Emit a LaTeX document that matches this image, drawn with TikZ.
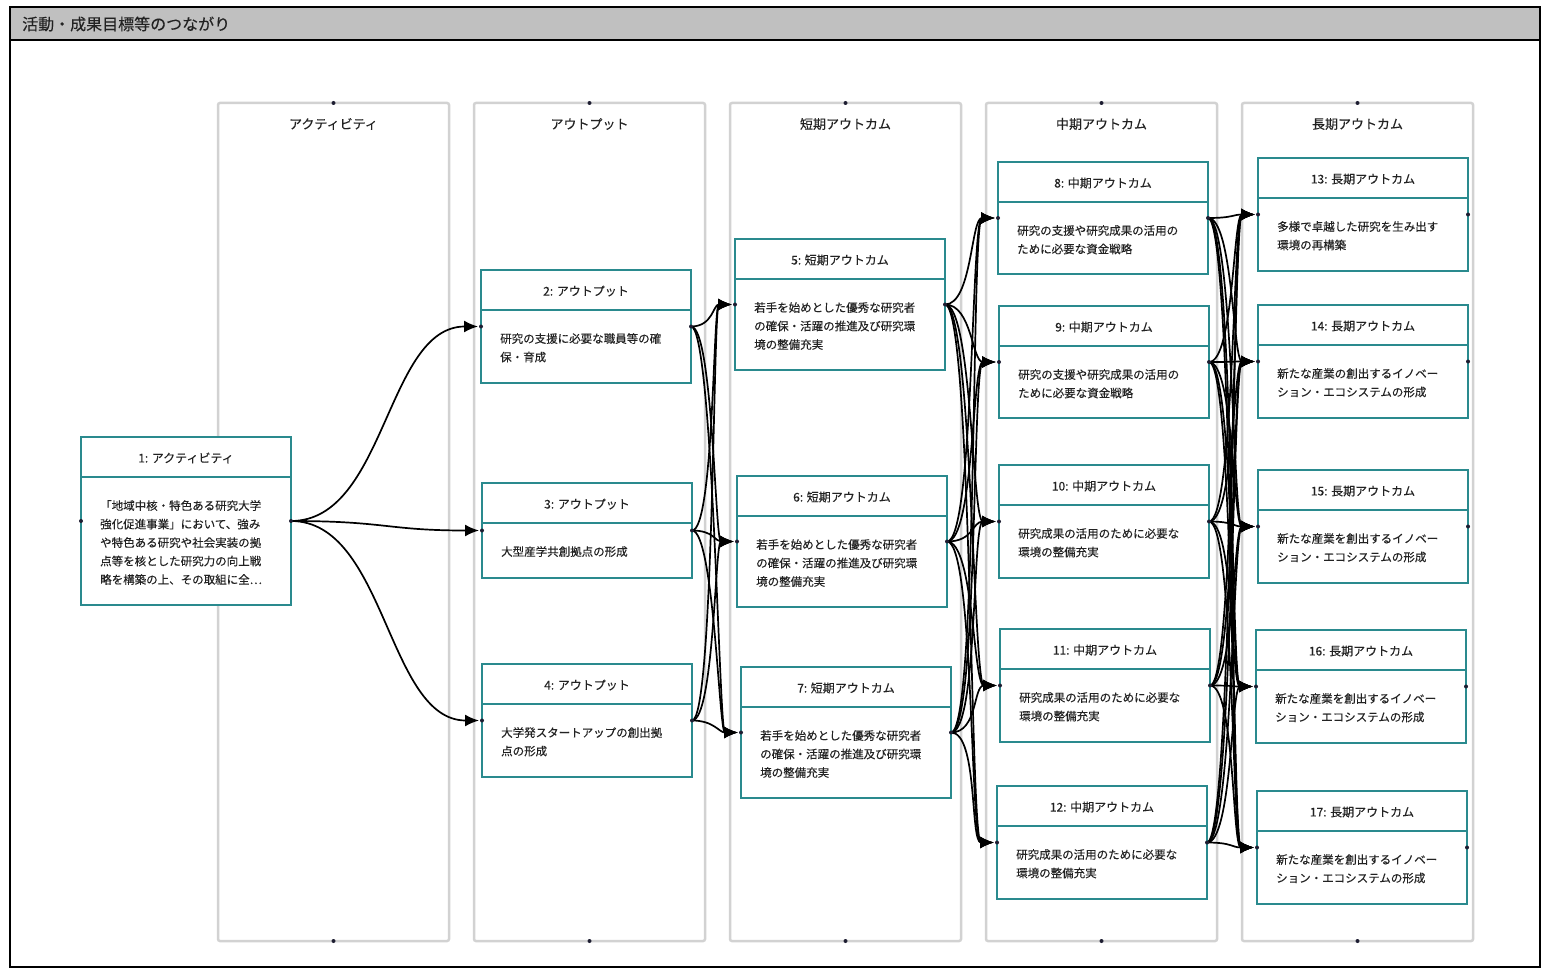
\documentclass[tikz,border=0pt]{standalone}
\usepackage{fontspec}
\setmainfont{Noto Sans CJK JP}[FakeBold=0.2]
\usetikzlibrary{arrows.meta}
\definecolor{teal}{RGB}{42,138,142}
\definecolor{lanegray}{RGB}{210,210,210}
\definecolor{barbg}{RGB}{192,192,192}
\definecolor{txt}{RGB}{34,34,34}
\definecolor{dotc}{RGB}{30,30,50}
\tikzset{
  box/.style={draw=teal, line width=1.2pt, inner sep=0pt, outer sep=0pt, minimum width=210pt, fill=white},
  boxline/.style={draw=teal, line width=1.2pt},
  hdr/.style={font=\fontsize{12}{14}\selectfont, text=txt, inner sep=0pt},
  bodytext/.style={font=\fontsize{11.5}{18.5}\selectfont, text=txt, align=left, inner sep=0pt, anchor=north west},
  lane/.style={draw=lanegray, line width=2.5pt, rounded corners=2pt},
  lanetitle/.style={font=\fontsize{13}{15}\selectfont, text=txt, inner sep=0pt},
  conn/.style={draw=black, line width=1.7pt, -{Latex[length=14pt,width=12pt]}, shorten >=3pt},
  dotst/.style={fill=dotc}
}
\newcommand\mkbox[6]{%
  \node[box, minimum height={#4-#3}, anchor=north west] (#1) at (#2,#3) {};
  \draw[boxline] (#1.north west) ++(0,40) -- ++(210,0);
  \path (#1.north) ++(0,21) node[hdr] {#5};
  \path (#1.north west) ++(19,63) node[bodytext] {#6};
}
\begin{document}
\begin{tikzpicture}[x=1pt,y=-1pt]
\useasboundingbox (0,0) rectangle (1541,968);
\fill[white] (0,0) rectangle (1541,968);
% frame and header
\fill[barbg] (10,7) rectangle (1540,40);
\draw[line width=1.5pt] (10,7) rectangle (1540,967);
\draw[line width=1.5pt] (10,40) -- (1540,40);
\node[anchor=west, font=\fontsize{16}{18}\selectfont, text=txt, inner sep=0pt] (title) at (22,24) {活動・成果目標等のつながり};
% lanes
\foreach \lx/\lt [count=\i] in {218/アクティビティ,474/アウトプット,730/短期アウトカム,986/中期アウトカム,1242/長期アウトカム}{
  \draw[lane] (\lx,103) rectangle ++(231,838);
  \node[lanetitle] (lt\i) at (\lx+115.5,124) {\lt};
  \fill[dotst] (\lx+115.5,103) circle (2pt);
  \fill[dotst] (\lx+115.5,941) circle (2pt);
}
% nodes
\mkbox{n1}{81}{437}{605}{1: アクティビティ}{「地域中核・特色ある研究大学\\強化促進事業」において、強み\\や特色ある研究や社会実装の拠\\点等を核とした研究力の向上戦\\略を構築の上、その取組に全…}
\mkbox{n2}{481}{270}{383}{2: アウトプット}{研究の支援に必要な職員等の確\\保・育成}
\mkbox{n3}{482}{483}{578}{3: アウトプット}{大型産学共創拠点の形成}
\mkbox{n4}{482}{664}{777}{4: アウトプット}{大学発スタートアップの創出拠\\点の形成}
\mkbox{n5}{735}{239}{370}{5: 短期アウトカム}{若手を始めとした優秀な研究者\\の確保・活躍の推進及び研究環\\境の整備充実}
\mkbox{n6}{737}{476}{607}{6: 短期アウトカム}{若手を始めとした優秀な研究者\\の確保・活躍の推進及び研究環\\境の整備充実}
\mkbox{n7}{741}{667}{798}{7: 短期アウトカム}{若手を始めとした優秀な研究者\\の確保・活躍の推進及び研究環\\境の整備充実}
\mkbox{n8}{998}{162}{274}{8: 中期アウトカム}{研究の支援や研究成果の活用の\\ために必要な資金戦略}
\mkbox{n9}{999}{306}{418}{9: 中期アウトカム}{研究の支援や研究成果の活用の\\ために必要な資金戦略}
\mkbox{n10}{999}{465}{578}{10: 中期アウトカム}{研究成果の活用のために必要な\\環境の整備充実}
\mkbox{n11}{1000}{629}{742}{11: 中期アウトカム}{研究成果の活用のために必要な\\環境の整備充実}
\mkbox{n12}{997}{786}{899}{12: 中期アウトカム}{研究成果の活用のために必要な\\環境の整備充実}
\mkbox{n13}{1258}{158}{271}{13: 長期アウトカム}{多様で卓越した研究を生み出す\\環境の再構築}
\mkbox{n14}{1258}{305}{418}{14: 長期アウトカム}{新たな産業の創出するイノベー\\ション・エコシステムの形成}
\mkbox{n15}{1258}{470}{583}{15: 長期アウトカム}{新たな産業を創出するイノベー\\ション・エコシステムの形成}
\mkbox{n16}{1256}{630}{743}{16: 長期アウトカム}{新たな産業を創出するイノベー\\ション・エコシステムの形成}
\mkbox{n17}{1257}{791}{904}{17: 長期アウトカム}{新たな産業を創出するイノベー\\ション・エコシステムの形成}
% connectors
\foreach \t in {2,3,4}{\draw[conn] (n1.east) .. controls +(95,0) and +(-95,0) .. (n\t.west);}
\foreach \s in {2,3,4}{\foreach \t in {5,6,7}{\draw[conn] (n\s.east) .. controls +(22,0) and +(-22,0) .. (n\t.west);}}
\foreach \s in {5,6,7}{\foreach \t in {8,9,10,11,12}{\draw[conn] (n\s.east) .. controls +(27,0) and +(-27,0) .. (n\t.west);}}
\foreach \s in {8,9,10,11,12}{\foreach \t in {13,14,15,16,17}{\draw[conn] (n\s.east) .. controls +(25,0) and +(-25,0) .. (n\t.west);}}
% dots
\foreach \n in {1,...,17}{\fill[dotst] (n\n.west) circle (2pt); \fill[dotst] (n\n.east) circle (2pt);}
\end{tikzpicture}
\end{document}
